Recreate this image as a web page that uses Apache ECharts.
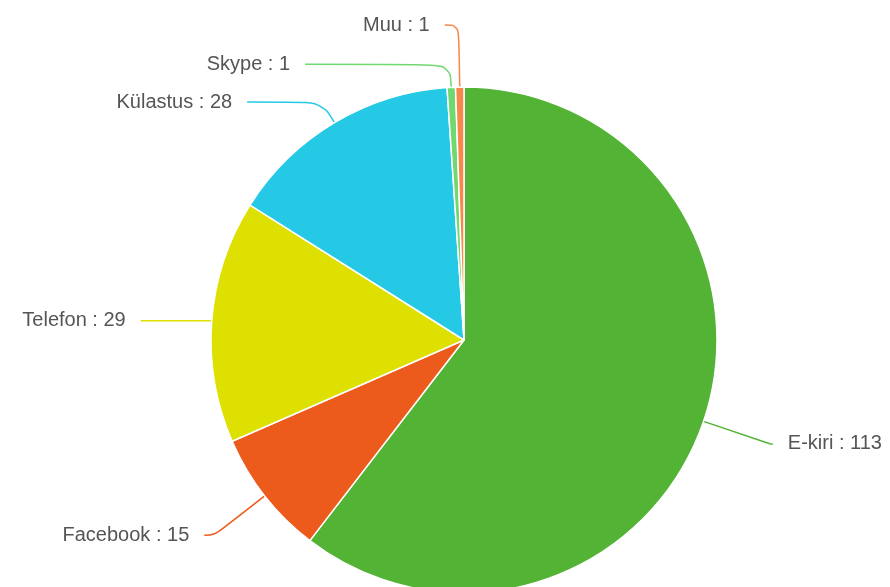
<!DOCTYPE html>
<html>
<head>
<meta charset="utf-8">
<script src="https://cdn.jsdelivr.net/npm/echarts@6/dist/echarts.min.js"></script>
<style>
html,body{margin:0;padding:0;background:#fff;}
#chart{width:890px;height:587px;}
</style>
</head>
<body>
<div id="chart"></div>
<script>
// Data
var categories = ['E-kiri', 'Facebook', 'Telefon', 'Külastus', 'Skype', 'Muu'];
var values = [113, 15, 29, 28, 1, 1];

// Styles (kept separate from data)
var colors = ['#52b335', '#ec5a1c', '#dde000', '#25c9e5', '#6fd86f', '#f7874a'];
var lineLen1 = [70, 64, 1, 24, 23, 62];
var lineLen2 = [3, 10, 70, 75, 145, 14];

var seriesData = categories.map(function (name, i) {
  return {
    name: name,
    value: values[i],
    itemStyle: { color: colors[i] },
    labelLine: { length: lineLen1[i], length2: lineLen2[i] }
  };
});

var chart = echarts.init(document.getElementById('chart'), null, { renderer: 'canvas' });
chart.setOption({
  animation: false,
  backgroundColor: '#fff',
  series: [{
    type: 'pie',
    center: [464, 340],
    radius: 253,
    startAngle: 90,
    clockwise: true,
    avoidLabelOverlap: false,
    data: seriesData,
    itemStyle: { borderColor: '#fff', borderWidth: 1.5 },
    label: {
      show: true,
      formatter: '{b} : {c}',
      color: '#555',
      fontSize: 20,
      fontFamily: "'Liberation Sans', Arial, sans-serif",
      distanceToLabelLine: 15
    },
    labelLine: {
      show: true,
      smooth: 0.4,
      lineStyle: { width: 1.5 }
    },
    emphasis: { disabled: true }
  }]
});
</script>
</body>
</html>
